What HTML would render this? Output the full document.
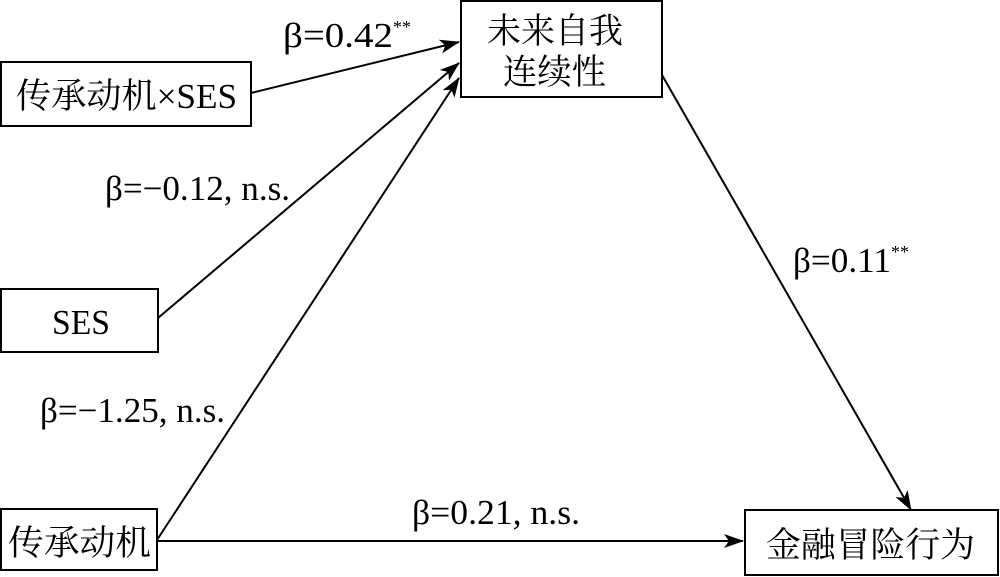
<!DOCTYPE html>
<html><head><meta charset="utf-8"><style>
html,body{margin:0;padding:0;background:#fff;}
svg{display:block}
.c{font-family:"Liberation Serif","Noto Serif CJK SC","Noto Sans CJK SC",serif;font-size:35px;fill:#000}
.l{font-family:"Liberation Serif",serif;font-size:35px;fill:#000}
</style></head><body>
<svg width="1000" height="577" viewBox="0 0 1000 577" xmlns="http://www.w3.org/2000/svg">
<defs><marker id="a" viewBox="0 0 20 14" refX="19" refY="7" markerWidth="20" markerHeight="14" markerUnits="userSpaceOnUse" orient="auto"><path d="M0,0 L20,7 L0,14 L5,7 Z" fill="#000"/></marker></defs>
<g fill="none" stroke="#000" stroke-width="2">
<rect x="1" y="62" width="250" height="64"/>
<rect x="461" y="1" width="201" height="96"/>
<rect x="1" y="289" width="157" height="63"/>
<rect x="1" y="509" width="156" height="61"/>
<rect x="745" y="510" width="253" height="65"/>
<line x1="251" y1="93" x2="459" y2="42" marker-end="url(#a)"/>
<line x1="158" y1="318" x2="459" y2="63" marker-end="url(#a)"/>
<line x1="157" y1="540" x2="459" y2="78" marker-end="url(#a)"/>
<line x1="662" y1="75" x2="911" y2="510" marker-end="url(#a)"/>
<line x1="157" y1="541" x2="743" y2="541" marker-end="url(#a)"/>
</g>
<text class="c" x="16" y="108" textLength="221" lengthAdjust="spacingAndGlyphs">传承动机×SES</text>
<text class="c" x="487" y="43" textLength="136" lengthAdjust="spacingAndGlyphs">未来自我</text>
<text class="c" x="503" y="84" textLength="103" lengthAdjust="spacingAndGlyphs">连续性</text>
<text class="c" x="52" y="334" textLength="58" lengthAdjust="spacingAndGlyphs">SES</text>
<text class="c" x="8" y="555" textLength="143" lengthAdjust="spacingAndGlyphs">传承动机</text>
<text class="c" x="766" y="557" textLength="209" lengthAdjust="spacingAndGlyphs">金融冒险行为</text>
<text class="l" x="283" y="47"><tspan textLength="110" lengthAdjust="spacingAndGlyphs">β=0.42</tspan><tspan font-size="18" dy="-14">**</tspan></text>
<text class="l" x="105" y="200" textLength="185" lengthAdjust="spacingAndGlyphs">β=−0.12, n.s.</text>
<text class="l" x="793" y="272"><tspan textLength="98" lengthAdjust="spacingAndGlyphs">β=0.11</tspan><tspan font-size="18" dy="-14">**</tspan></text>
<text class="l" x="40" y="422" textLength="185" lengthAdjust="spacingAndGlyphs">β=−1.25, n.s.</text>
<text class="l" x="412" y="524" textLength="168" lengthAdjust="spacingAndGlyphs">β=0.21, n.s.</text>
</svg>
</body></html>
